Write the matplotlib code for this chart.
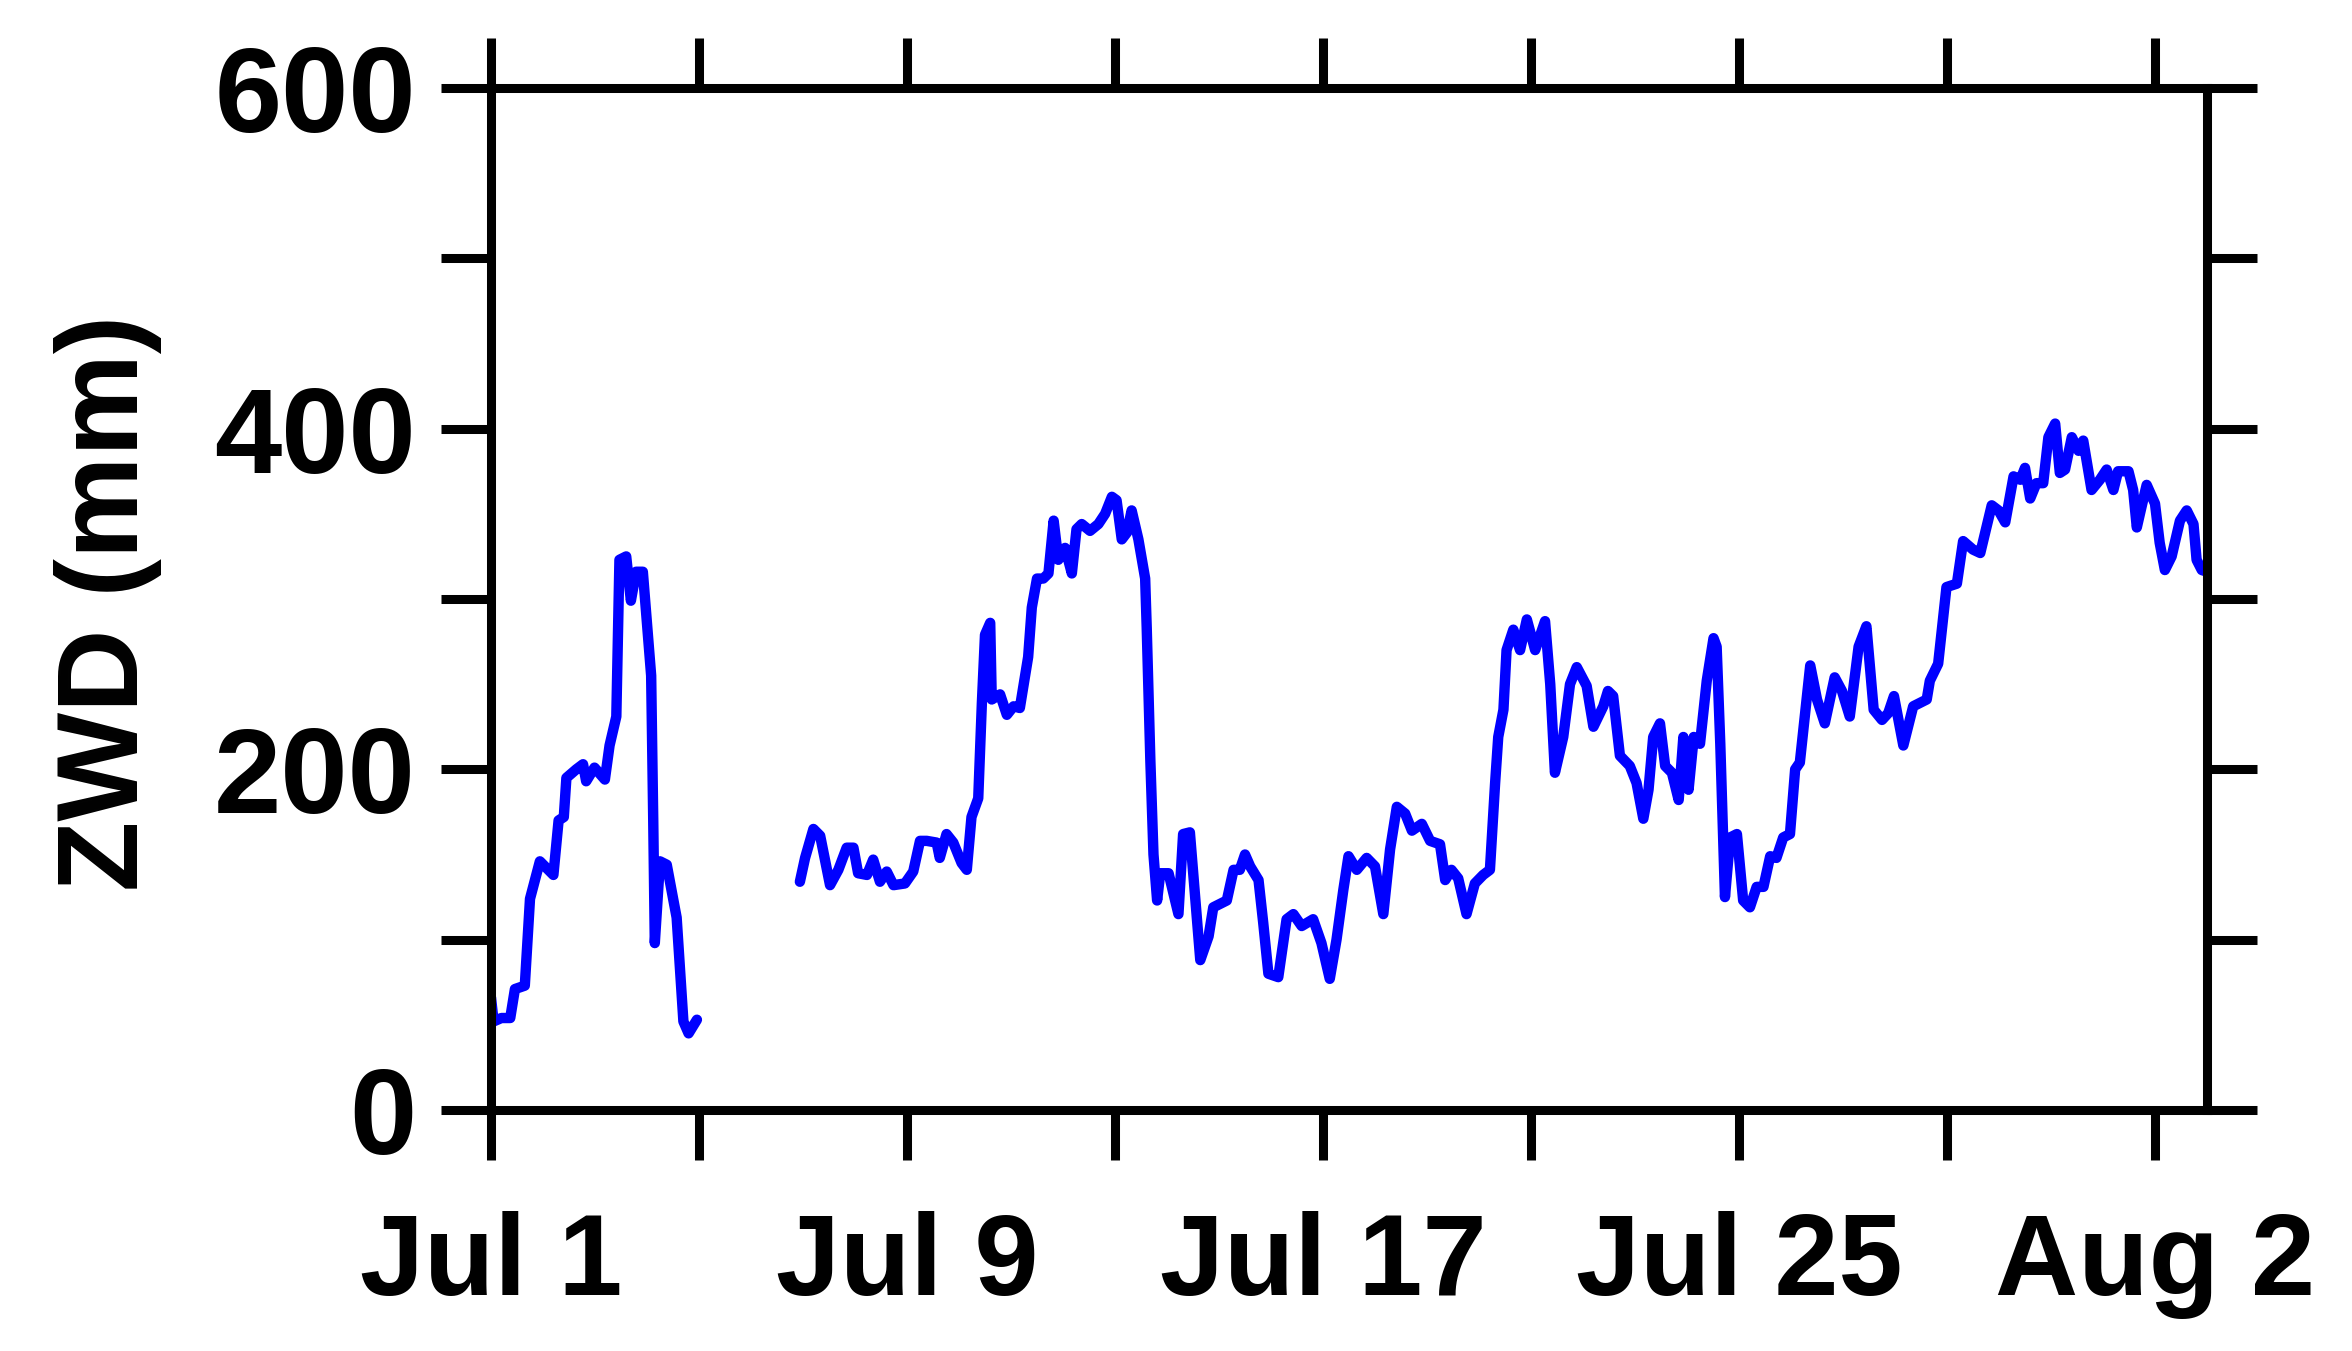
import matplotlib
matplotlib.use("Agg")
import matplotlib.pyplot as plt
import numpy as np

plt.rcParams['font.family'] = ['Liberation Sans', 'DejaVu Sans']
plt.rcParams['font.weight'] = 'bold'

# Day offsets from Jul 1 00:00 and ZWD values (mm)
days_seg1 = [0.0, 0.05, 0.2, 0.37, 0.46, 0.65, 0.75, 0.94, 1.2, 1.3, 1.4, 1.45,
             1.64, 1.77, 1.83, 1.99, 2.19, 2.28, 2.41, 2.47, 2.6, 2.69, 2.79,
             2.92, 3.08, 3.12, 3.15, 3.25, 3.38, 3.57, 3.7, 3.8, 3.96]
zwd_seg1 = [66, 52, 54, 54, 71, 73, 124, 146, 138, 170, 172, 195,
            200, 203, 193, 201, 194, 214, 231, 323, 325, 299, 316,
            316, 255, 170, 98, 146, 144, 113, 52, 45, 53]

days_seg2 = [5.94, 6.04, 6.2, 6.33, 6.52, 6.68, 6.84, 6.97, 7.06, 7.23, 7.35, 7.48,
             7.61, 7.74, 7.96, 8.12, 8.25, 8.38, 8.57, 8.63, 8.76, 8.89, 9.05,
             9.15, 9.24, 9.37, 9.44, 9.5, 9.6, 9.63, 9.79, 9.92, 10.05, 10.17,
             10.33, 10.4, 10.5, 10.62, 10.72, 10.82, 10.91, 11.04, 11.17, 11.26,
             11.36, 11.52, 11.68, 11.81, 11.94, 12.03, 12.13, 12.23, 12.32,
             12.45, 12.58, 12.61, 12.68, 12.74, 12.81,
             12.87, 13.03, 13.22, 13.31, 13.44, 13.64, 13.8, 13.89, 14.15, 14.28,
             14.4, 14.5, 14.6, 14.76, 14.85, 14.95, 15.14, 15.3, 15.43, 15.59,
             15.81, 15.97, 16.13, 16.26, 16.39, 16.49, 16.65, 16.84, 17.0, 17.16,
             17.29, 17.42, 17.58, 17.71, 17.9, 18.06, 18.25, 18.35, 18.47, 18.6,
             18.76, 18.92, 19.08, 19.21, 19.31, 19.37, 19.47, 19.53, 19.66, 19.79,
             19.92, 20.08, 20.27, 20.37, 20.46, 20.62,
             20.75, 20.88, 21.07, 21.2, 21.39, 21.48, 21.58, 21.71, 21.9, 22.03,
             22.16, 22.26, 22.35, 22.48, 22.58, 22.71, 22.84, 22.93, 23.03, 23.13,
             23.25, 23.38, 23.51, 23.57, 23.64, 23.73, 23.83, 23.96, 24.08, 24.21,
             24.34, 24.47, 24.6, 24.72, 24.85, 24.98, 25.08,
             25.17, 25.37, 25.5, 25.65, 25.84, 25.98, 26.13, 26.3, 26.45, 26.59,
             26.75, 26.87, 26.98, 27.16, 27.35, 27.61, 27.67, 27.83, 27.99, 28.19,
             28.31, 28.5, 28.64, 28.86, 28.99, 29.12, 29.28, 29.41, 29.5, 29.6,
             29.72, 29.85, 29.95, 30.08, 30.17, 30.27, 30.4, 30.53, 30.62, 30.78,
             30.94, 31.07, 31.2, 31.29, 31.49, 31.58, 31.65, 31.74, 31.84, 32.0,
             32.09, 32.19, 32.32, 32.48, 32.61, 32.74, 32.8, 32.9, 33.0]
zwd_seg2 = [134, 148, 165, 161, 132, 141, 154, 154, 139, 138, 147, 134,
            140, 132, 133, 140, 158, 158, 157, 148, 162, 157, 145,
            141, 172, 183, 239, 279, 286, 241, 244, 232, 237, 236,
            266, 295, 312, 312, 315, 346, 323, 330, 315, 341,
            344, 340, 344, 350, 360, 358, 335, 339, 352,
            335, 312, 283, 205, 150, 123,
            139, 139, 115, 162, 163, 88, 102, 119, 123, 141,
            141, 150, 143, 135, 110, 80, 78, 112, 115, 108,
            112, 98, 77, 100, 129, 149, 141, 148, 143, 115,
            153, 178, 174, 164, 168, 158, 156, 135, 141, 136,
            115, 133, 138, 141, 192, 219, 235, 270, 282, 270,
            288, 270, 287, 250, 198, 219,
            250, 260, 249, 225, 237, 246, 243, 208, 202, 192,
            171, 188, 219, 227, 202, 198, 182, 219, 188, 219,
            215, 252, 277, 272, 215, 125, 160, 162, 123, 119,
            131, 131, 149, 148, 160, 162, 200,
            204, 261, 241, 227, 254, 246, 231, 272, 284, 235,
            229, 233, 243, 214, 237, 241, 252, 262, 307, 309,
            334, 329, 327, 355, 352, 345, 372, 370, 377, 359,
            368, 368, 395, 403, 374, 376, 395, 387, 393, 364,
            370, 376, 364, 375, 375, 364, 342, 354, 367, 356,
            333, 317, 325, 346, 352, 344, 323, 317, 316]

xtick_days = [0, 4, 8, 12, 16, 20, 24, 28, 32]
xtick_labels = ["Jul 1", "", "Jul 9", "", "Jul 17", "", "Jul 25", "", "Aug 2"]
ytick_vals = [0, 100, 200, 300, 400, 500, 600]
ytick_labels = ["0", "", "200", "", "400", "", "600"]

W, H = 2352, 1351
fig = plt.figure(figsize=(W / 100, H / 100), dpi=100)
ax = fig.add_axes([491 / W, 1 - 1110 / H, 1716 / W, 1022 / H])

for d, v in ((days_seg1, zwd_seg1), (days_seg2, zwd_seg2)):
    ax.plot(d, v, color='#0000ff', lw=7.5, solid_joinstyle='round',
            solid_capstyle='round')

ax.set_xlim(0, 33)
ax.set_ylim(0, 600)
ax.set_xticks(xtick_days)
ax.set_xticklabels(xtick_labels)
ax.set_yticks(ytick_vals)
ax.set_yticklabels(ytick_labels)

for s in ax.spines.values():
    s.set_linewidth(6.5)
    s.set_color('black')

ax.tick_params(axis='both', which='major', direction='out', length=36, width=6.5,
               top=True, right=True, labeltop=False, labelright=False,
               color='black')
ax.tick_params(axis='x', pad=37, labelsize=83)
ax.tick_params(axis='y', pad=18, labelsize=87)
for lab in ax.get_xticklabels() + ax.get_yticklabels():
    lab.set_fontweight('bold')

fig.text(108 / W, 1 - 603 / H, "ZWD (mm)", rotation=90, ha='center', va='center',
         fontsize=83, fontweight='bold')

fig.savefig("out.png", dpi=100, facecolor='white')
